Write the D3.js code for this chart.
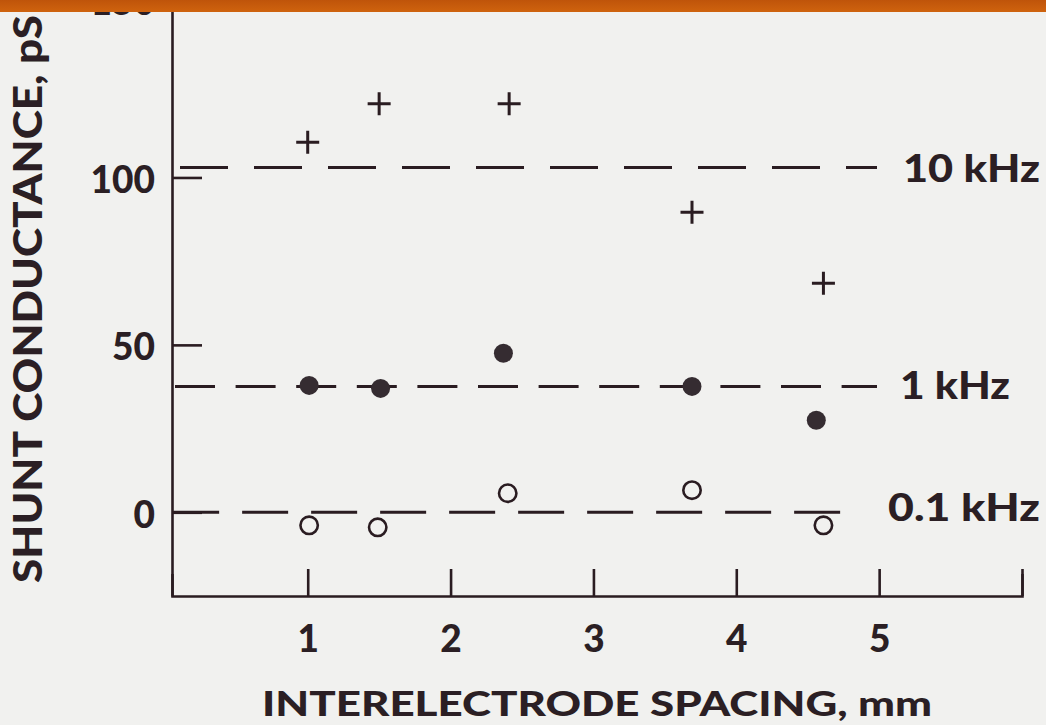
<!DOCTYPE html>
<html><head><meta charset="utf-8">
<script src="https://cdn.jsdelivr.net/npm/d3@7"></script>
<style>
html,body{margin:0;padding:0;background:#f1f1ef;}
svg{display:block;}
text{font-family:"Lato","DejaVu Sans",sans-serif;font-weight:900;fill:#2b1f24;}
</style></head><body>
<svg id="chart" width="1046" height="725"></svg>
<script>
// ---- data ----
const yTickValues = [0, 50, 100, 150];
const yTickLabels = ["0", "50", "100", "150"];
const xTickValues = [1, 2, 3, 4, 5, 6];
const xTickLabels = ["1", "2", "3", "4", "5", ""];

const freqLabels = ["10 kHz", "1 kHz", "0.1 kHz"];
const freqLevels = [103.0, 37.6, 0];
const freqLineStart = [0.106, 0.071, 0.058];
const freqLineEnd = [4.985, 4.985, 4.768];

const crossX = [1.00, 1.50, 2.41, 3.69, 4.61];      // 10 kHz
const crossY = [110.5, 122.0, 122.0, 89.6, 68.4];
const dotX = [1.01, 1.51, 2.37, 3.69, 4.56];        // 1 kHz
const dotY = [37.9, 37.0, 47.5, 37.6, 27.5];
const ringX = [1.01, 1.49, 2.40, 3.69, 4.61];       // 0.1 kHz
const ringY = [-3.9, -4.5, 5.7, 6.6, -3.9];

const xTitle = "INTERELECTRODE SPACING, mm";
const yTitle = "SHUNT CONDUCTANCE, pS";

// ---- drawing ----
const ink = "#2a1c21";
const svg = d3.select("#chart");
svg.append("rect").attr("width", 1046).attr("height", 725).attr("fill", "#f1f1ef");

const x = d3.scaleLinear().domain([0.05, 6]).range([172, 1022]);
const y = d3.scaleLinear().domain([-25, 153]).range([596, 0]);

// reference (dashed) lines
const dashes = ["48,26", "40,20.6", "46,23"];
const labelGap = [26, 23, 42];
const labelLen = [137, 110, 152];
const labelDy = [15, 13, 9];
const line = d3.line().x(d => x(d[0])).y(d => y(d[1]));
freqLevels.forEach((lv, i) => {
  svg.append("path")
    .attr("d", line([[freqLineStart[i], lv], [freqLineEnd[i], lv]]))
    .attr("fill", "none").attr("stroke", ink).attr("stroke-width", 3)
    .attr("stroke-dasharray", dashes[i]);
  svg.append("text")
    .attr("x", x(freqLineEnd[i]) + labelGap[i])
    .attr("y", y(lv) + labelDy[i])
    .attr("font-size", 38)
    .attr("textLength", labelLen[i]).attr("lengthAdjust", "spacingAndGlyphs")
    .text(freqLabels[i]);
});

// axes
const xAxis = d3.axisBottom(x).tickValues(xTickValues)
  .tickFormat((d, i) => xTickLabels[i]).tickSizeInner(-27).tickSizeOuter(-22).tickPadding(30);
const gx = svg.append("g").attr("transform", "translate(0," + y(-25) + ")").call(xAxis);
const yAxis = d3.axisLeft(y).tickValues(yTickValues)
  .tickFormat((d, i) => yTickLabels[i]).tickSizeInner(-30).tickSizeOuter(0).tickPadding(17);
const gy = svg.append("g").attr("transform", "translate(" + x(0.05) + ",0)").call(yAxis);
[gx, gy].forEach(g => {
  g.select(".domain").attr("stroke", ink).attr("stroke-width", 2.6);
  g.selectAll(".tick line").attr("stroke", ink).attr("stroke-width", 2.6);
  g.selectAll(".tick text").attr("font-size", 37).attr("fill", "#2b1f24")
    .attr("font-family", "Lato, 'DejaVu Sans', sans-serif").attr("font-weight", 900);
});
gy.selectAll(".tick text").attr("dy", d => d === 150 ? "0.13em" : "0.4em");

// markers
const crossData = crossX.map((v, i) => [v, crossY[i]]);
const dotData = dotX.map((v, i) => [v, dotY[i]]);
const ringData = ringX.map((v, i) => [v, ringY[i]]);
const arm = 11.5;
svg.append("g").selectAll("path").data(crossData).join("path")
  .attr("d", d => {
    const cx = x(d[0]), cy = y(d[1]);
    return `M${cx - arm},${cy}H${cx + arm}M${cx},${cy - arm}V${cy + arm}`;
  })
  .attr("stroke", ink).attr("stroke-width", 3).attr("fill", "none");
svg.append("g").selectAll("circle").data(dotData).join("circle")
  .attr("cx", d => x(d[0])).attr("cy", d => y(d[1])).attr("r", 9.5)
  .attr("fill", "#352c31");
svg.append("g").selectAll("circle").data(ringData).join("circle")
  .attr("cx", d => x(d[0])).attr("cy", d => y(d[1])).attr("r", 8.7)
  .attr("fill", "none").attr("stroke", ink).attr("stroke-width", 2.6);

// titles
svg.append("text").attr("x", 597).attr("y", 716).attr("text-anchor", "middle")
  .attr("font-size", 35).attr("textLength", 670).attr("lengthAdjust", "spacingAndGlyphs")
  .text(xTitle);
svg.append("text").attr("transform", "translate(42,299) rotate(-90)")
  .attr("text-anchor", "middle").attr("font-size", 40)
  .attr("textLength", 568).attr("lengthAdjust", "spacingAndGlyphs")
  .text(yTitle);

// scanned page's orange top edge
const grad = svg.append("defs").append("linearGradient").attr("id", "band")
  .attr("x1", 0).attr("y1", 0).attr("x2", 0).attr("y2", 1);
grad.append("stop").attr("offset", "0%").attr("stop-color", "#bf540a");
grad.append("stop").attr("offset", "100%").attr("stop-color", "#cf630e");
svg.append("rect").attr("x", 0).attr("y", 0).attr("width", 1046).attr("height", 12)
  .attr("fill", "url(#band)");
</script>
</body></html>
